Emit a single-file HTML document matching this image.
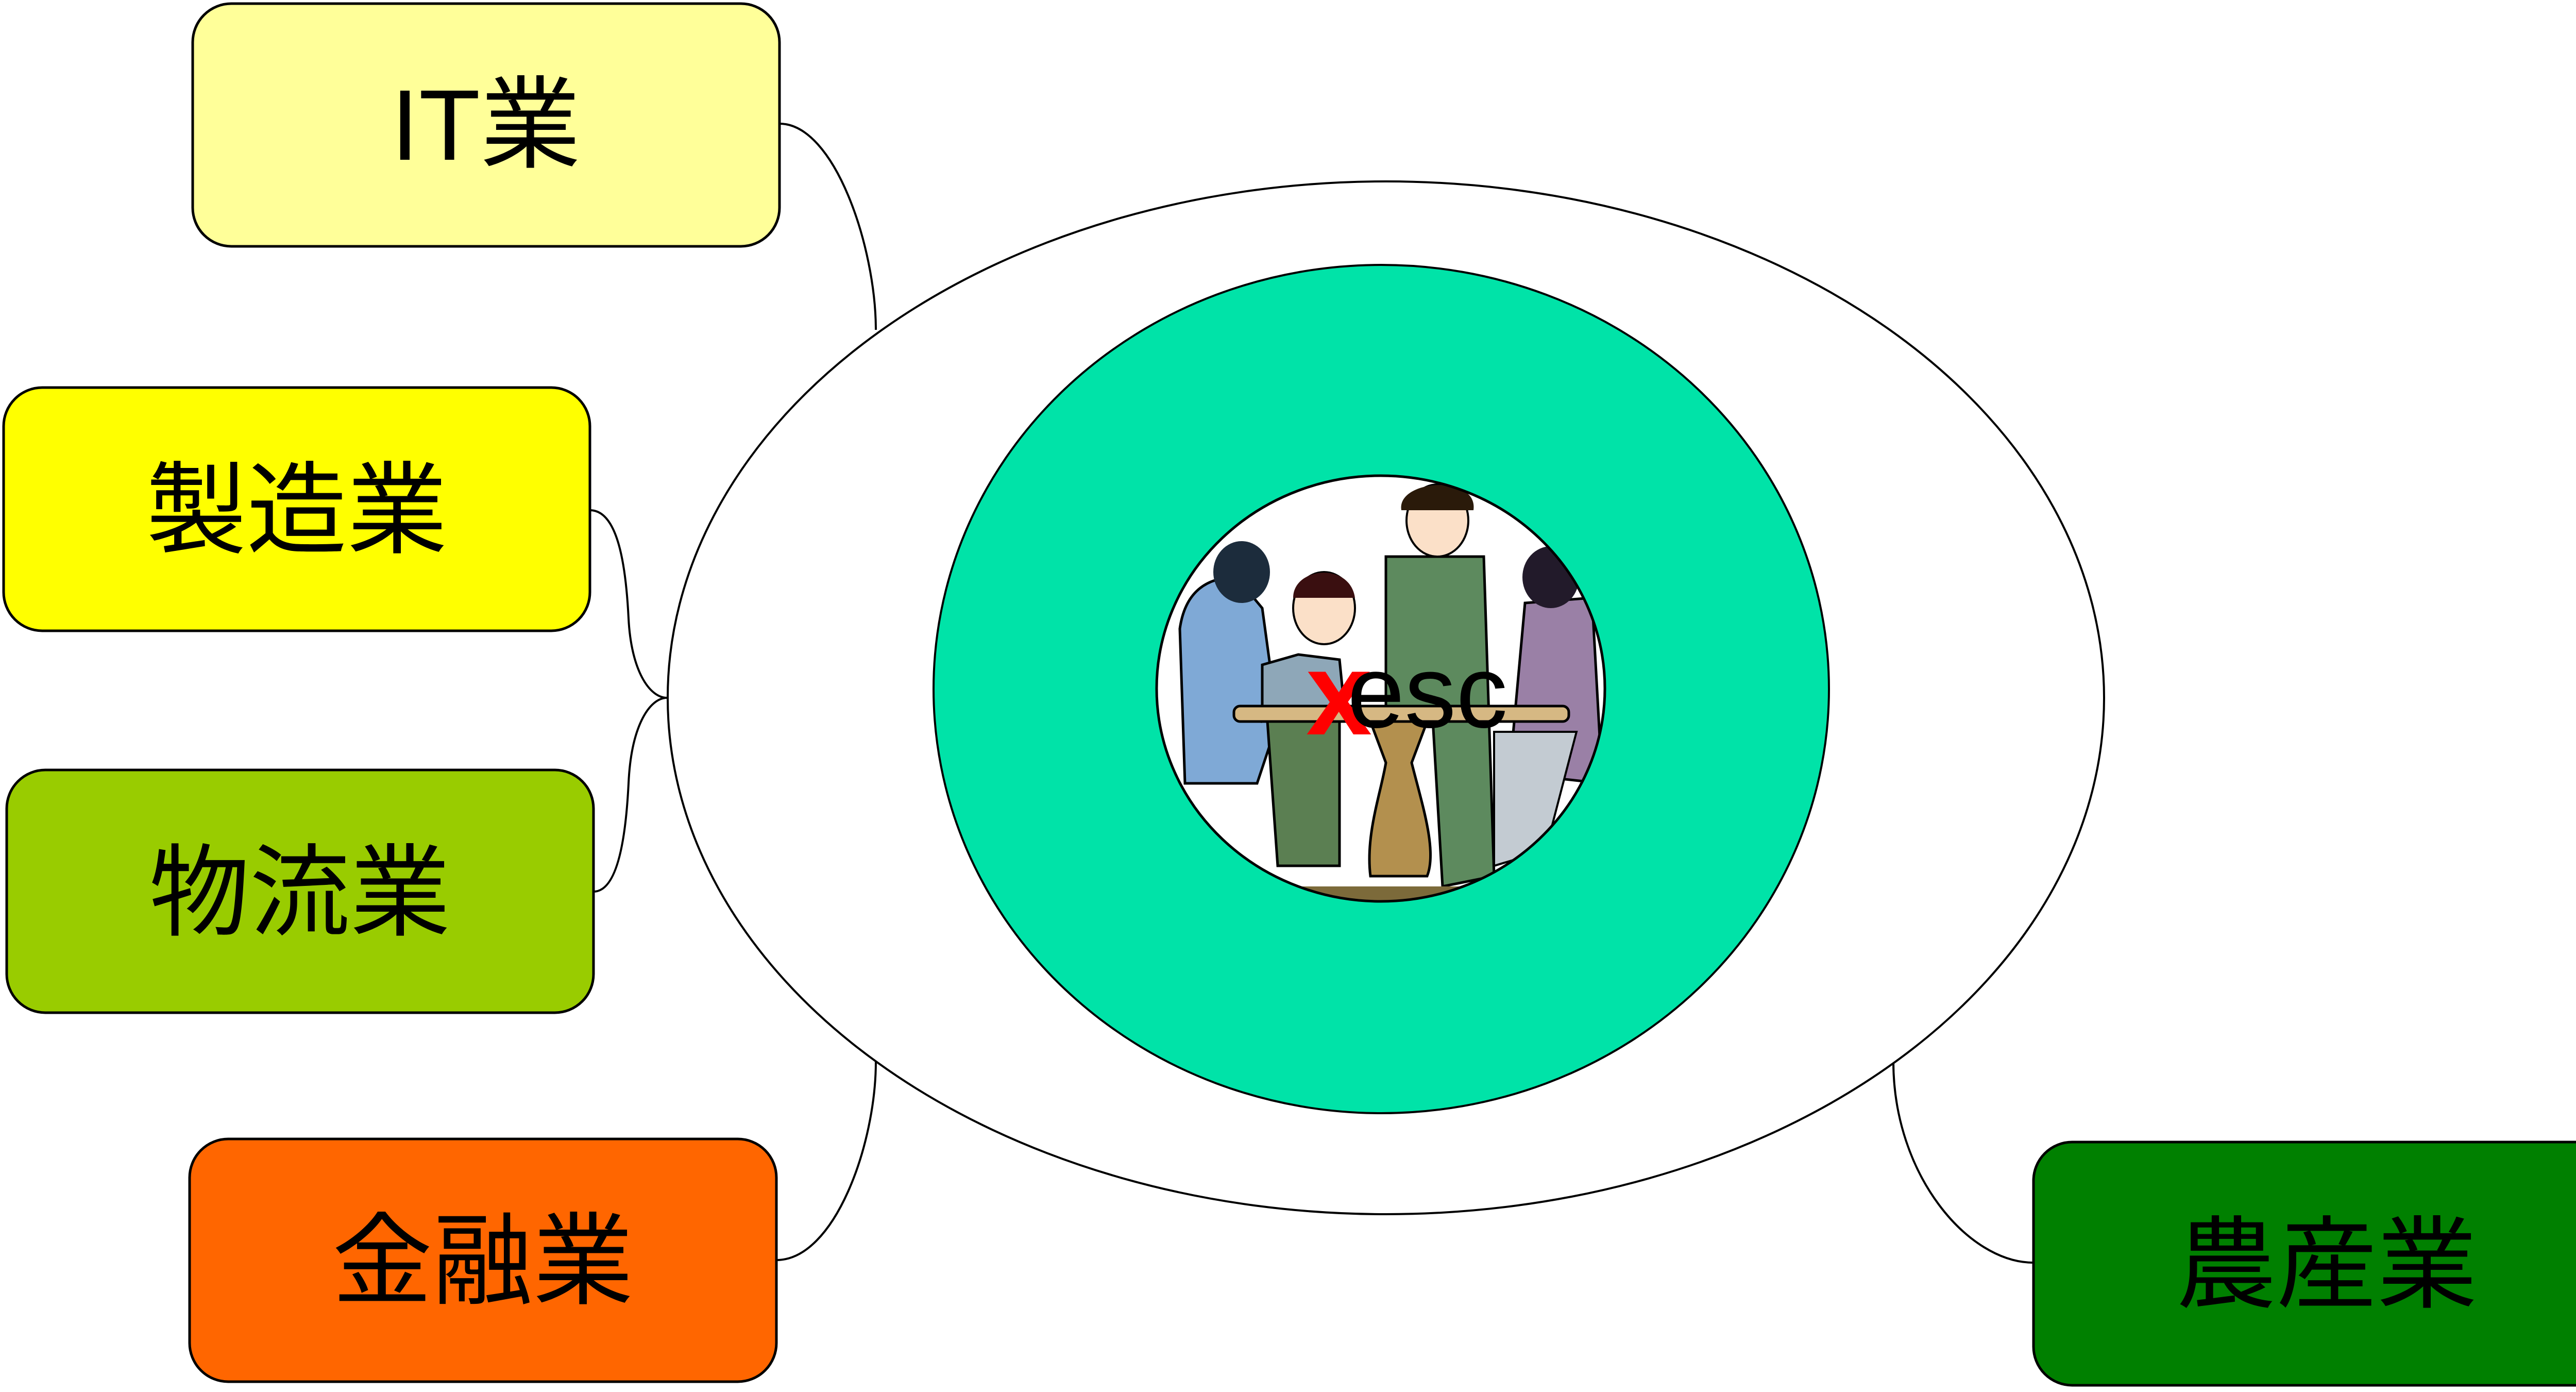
<!DOCTYPE html>
<html><head><meta charset="utf-8"><style>
html,body{margin:0;padding:0;background:#fff;}
svg{display:block;}
text{font-family:"Liberation Sans","Noto Sans CJK JP",sans-serif;}
</style></head><body>
<svg width="5096" height="2701" viewBox="0 0 5096 2701" xmlns="http://www.w3.org/2000/svg">
<defs><clipPath id="c"><ellipse cx="2680" cy="1336" rx="435" ry="413"/></clipPath></defs>
<g fill="none" stroke="#000" stroke-width="4">
<path d="M1513 240 C1620 240 1700 480 1700 640"/>
<path d="M1145 990 C1200 990 1215 1100 1220 1200 C1225 1300 1260 1354 1295 1354"/>
<path d="M1152 1730 C1200 1730 1215 1620 1220 1520 C1225 1410 1260 1354 1295 1354"/>
<path d="M1507 2445 C1620 2445 1700 2220 1700 2060"/>
<path d="M3947 2450 C3820 2450 3675 2280 3675 2060"/>
</g>
<ellipse cx="2690" cy="1354" rx="1394" ry="1002" fill="#fff" stroke="#000" stroke-width="4"/>
<ellipse cx="2681" cy="1337" rx="869" ry="823" fill="#00E3A8" stroke="#000" stroke-width="4"/>
<ellipse cx="2680" cy="1336" rx="435" ry="413" fill="#fff"/>
<g clip-path="url(#c)">
<!-- woman left -->
<path d="M2290 1220 C2300 1150 2340 1120 2400 1120 L2450 1180 L2480 1400 L2440 1520 L2300 1520 Z" fill="#7fa9d6" stroke="#000" stroke-width="5"/>
<ellipse cx="2410" cy="1110" rx="55" ry="60" fill="#1c2c3c"/>
<!-- man 2 -->
<path d="M2450 1290 L2520 1270 L2600 1280 L2610 1380 L2450 1400 Z" fill="#8ea7b8" stroke="#000" stroke-width="5"/>
<path d="M2460 1400 L2600 1400 L2600 1680 L2480 1680 Z" fill="#5b7f52" stroke="#000" stroke-width="5"/>
<ellipse cx="2570" cy="1180" rx="60" ry="70" fill="#fbe0c8" stroke="#000" stroke-width="4"/>
<path d="M2510 1160 C2510 1100 2620 1090 2630 1160 Z" fill="#3a0f10"/>
<!-- standing man -->
<path d="M2690 1080 L2880 1080 L2900 1700 L2800 1720 L2780 1380 L2690 1380 Z" fill="#5d8a5e" stroke="#000" stroke-width="5"/>
<ellipse cx="2790" cy="1010" rx="60" ry="70" fill="#fbe0c8" stroke="#000" stroke-width="4"/>
<path d="M2720 990 C2710 930 2870 920 2860 990 Z" fill="#2a1a0a"/>
<!-- woman right -->
<path d="M2960 1170 L3090 1160 L3110 1520 L2930 1500 Z" fill="#9a80a6" stroke="#000" stroke-width="5"/>
<path d="M2900 1420 L3060 1420 L3000 1650 L2900 1680 Z" fill="#c3cbd2" stroke="#000" stroke-width="4"/>
<ellipse cx="3010" cy="1120" rx="55" ry="60" fill="#221a2a"/>
<!-- table -->
<rect x="2395" y="1370" width="650" height="30" rx="12" fill="#d6b883" stroke="#000" stroke-width="5"/>
<path d="M2660 1400 L2770 1400 L2740 1480 C2760 1560 2790 1650 2770 1700 L2660 1700 C2650 1620 2680 1540 2690 1480 Z" fill="#b3904e" stroke="#000" stroke-width="5"/>
<path d="M2500 1720 L2900 1720 L2900 1760 L2500 1760 Z" fill="#7c6a3a"/>
</g>
<ellipse cx="2680" cy="1336" rx="435" ry="413" fill="none" stroke="#000" stroke-width="5"/>
<text x="2535" y="1425" font-size="230" font-weight="bold" fill="#ff0000" font-family="Liberation Sans,sans-serif">x</text>
<text x="2615" y="1411" font-size="200" fill="#000">esc</text>
<g stroke="#000" stroke-width="5">
<rect x="374" y="7" width="1139" height="471" rx="75" fill="#FFFF99"/>
<rect x="7" y="752" width="1138" height="472" rx="75" fill="#FFFF00"/>
<rect x="13" y="1494" width="1139" height="471" rx="75" fill="#99CC00"/>
<rect x="368" y="2210" width="1139" height="471" rx="75" fill="#FF6600"/>
<rect x="3947" y="2216" width="1139" height="472" rx="75" fill="#008000"/>
</g>
<g font-size="195" text-anchor="middle" fill="#000">
<text x="943" y="310">IT業</text>
<text x="576" y="1058">製造業</text>
<text x="582" y="1800">物流業</text>
<text x="937" y="2515">金融業</text>
<text x="4516" y="2522">農産業</text>
</g>
</svg>
</body></html>
